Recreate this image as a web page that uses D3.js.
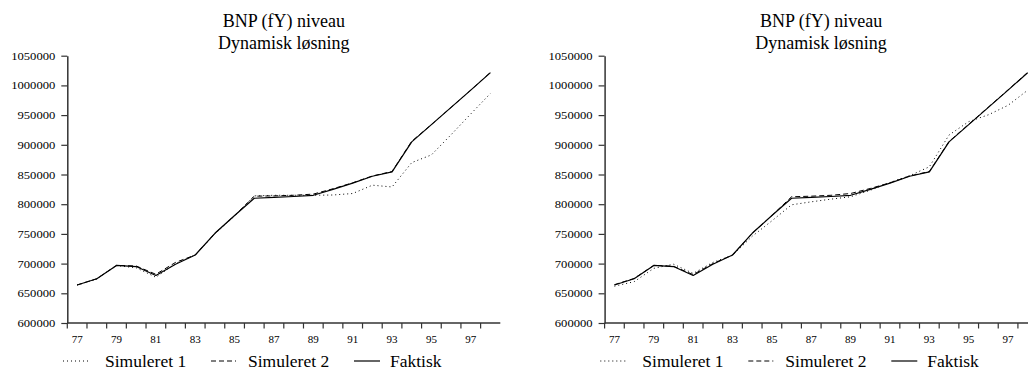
<!DOCTYPE html>
<html>
<head>
<meta charset="utf-8">
<script src="https://cdn.jsdelivr.net/npm/d3@7"></script>
<style>
  html, body { margin: 0; padding: 0; background: #fff; overflow: hidden; }
  svg { display: block; }
  text { font-family: "Liberation Serif", "Times New Roman", serif; fill: #000; }
</style>
</head>
<body>
<svg id="chart" width="1028" height="371"></svg>
<script>
// Years on the category axis (19xx)
const years = ["77","78","79","80","81","82","83","84","85","86","87","88","89","90","91","92","93","94","95","96","97","98"];
const yTicks = [600000, 650000, 700000, 750000, 800000, 850000, 900000, 950000, 1000000, 1050000];

// Actual GDP level (fY)
const faktisk = [664000, 674500, 697000, 695000, 680000, 699000, 714500, 751000, 781000, 810000, 811500,
                 813000, 815000, 825000, 835500, 847000, 854500, 905000, 934000, 963000, 992000, 1021500];

// Left panel: dynamic simulations
const venstreSim1 = [664000, 674000, 696500, 693000, 677000, 700000, 714500, 750000, 780000, 814000, 815000,
                     815000, 815000, 815500, 818000, 832000, 829000, 870000, 883000, 917000, 952000, 986500];
const venstreSim2 = [664000, 674500, 697000, 696000, 682000, 702000, 714500, 751000, 781000, 813500, 814000,
                     815000, 817000, 826000, 836000, 847500, 855000, 906000, 934000, 963000, 992000, 1022000];

// Right panel: dynamic simulations
const hoejreSim1 = [662000, 669500, 692000, 699000, 683500, 702000, 714000, 746000, 772000, 799000, 804000,
                    808500, 812500, 823500, 836500, 848000, 863000, 916500, 939000, 950500, 966500, 992000];
const hoejreSim2 = [664500, 675000, 697000, 695500, 681500, 700000, 714500, 751000, 781000, 812500, 813500,
                    815000, 818000, 826500, 836000, 847500, 855000, 905500, 934500, 963500, 992500, 1022000];

const titleLines = ["BNP (fY) niveau", "Dynamisk løsning"];
const seriesNames = ["Simuleret 1", "Simuleret 2", "Faktisk"];
const dashes = ["1,3", "5,3", null];
const widths = [1, 1, 1.2];

const panels = [
  { dx: 0, series: [venstreSim1, venstreSim2, faktisk] },
  { dx: 537.3, series: [hoejreSim1, hoejreSim2, faktisk] }
];

const svg = d3.select("#chart");

const x = d3.scaleBand().domain(years).range([67.3, 500.3]).padding(0);
const y = d3.scaleLinear().domain([600000, 1050000]).range([323, 55.7]);
const axisColor = "#333";

panels.forEach(p => {
  const g = svg.append("g").attr("transform", `translate(${p.dx},0)`);

  // Title
  g.selectAll("text.title").data(titleLines).join("text")
    .attr("class", "title")
    .attr("x", (x.range()[0] + x.range()[1]) / 2)
    .attr("y", (d, i) => 27.3 + i * 22)
    .attr("text-anchor", "middle")
    .attr("font-size", 18)
    .text(d => d);

  // Y axis
  const yAxis = g.append("g").attr("transform", `translate(${x.range()[0]},0)`)
    .call(d3.axisLeft(y).tickValues(yTicks).tickSize(6).tickSizeOuter(0).tickPadding(6).tickFormat(d3.format("d")));
  yAxis.select(".domain").attr("stroke", axisColor).attr("stroke-width", 1.5);
  yAxis.selectAll(".tick line").attr("stroke", axisColor).attr("stroke-width", 1.2);
  yAxis.selectAll(".tick text")
    .attr("font-family", "Liberation Serif, serif")
    .attr("font-size", 11)
    .attr("fill", "#000")
    .attr("textLength", d => String(d).length * 6.3)
    .attr("lengthAdjust", "spacingAndGlyphs");

  // X axis: ticks at year boundaries, labels on odd years at band centres
  const xg = g.append("g");
  xg.append("line")
    .attr("x1", x.range()[0]).attr("x2", x.range()[1])
    .attr("y1", y(600000)).attr("y2", y(600000))
    .attr("stroke", axisColor).attr("stroke-width", 1.5);
  xg.selectAll("line.tk").data(years).join("line")
    .attr("class", "tk")
    .attr("x1", d => x(d)).attr("x2", d => x(d))
    .attr("y1", y(600000)).attr("y2", y(600000) + 5.5)
    .attr("stroke", axisColor).attr("stroke-width", 1.2);
  xg.selectAll("text.lbl").data(years.filter((d, i) => i % 2 === 0)).join("text")
    .attr("class", "lbl")
    .attr("x", d => x(d) + x.bandwidth() / 2)
    .attr("y", 343.3)
    .attr("text-anchor", "middle")
    .attr("font-size", 11)
    .text(d => d);

  // Series lines
  const line = d3.line()
    .x((d, i) => x(years[i]) + x.bandwidth() / 2)
    .y(d => y(d));
  p.series.forEach((s, k) => {
    g.append("path")
      .datum(s)
      .attr("d", line)
      .attr("fill", "none")
      .attr("stroke", "#000")
      .attr("stroke-width", widths[k])
      .attr("stroke-dasharray", dashes[k])
      .attr("stroke-linejoin", "round");
  });

  // Legend
  const legendLines = [[63, 88], [211, 236], [354, 380]];
  const legendText = [105, 248, 390];
  seriesNames.forEach((name, k) => {
    g.append("line")
      .attr("x1", legendLines[k][0]).attr("x2", legendLines[k][1])
      .attr("y1", 361).attr("y2", 361)
      .attr("stroke", "#000")
      .attr("stroke-width", widths[k])
      .attr("stroke-dasharray", dashes[k]);
    g.append("text")
      .attr("x", legendText[k])
      .attr("y", 367)
      .attr("font-size", 17.5)
      .text(name);
  });
});
</script>
</body>
</html>
